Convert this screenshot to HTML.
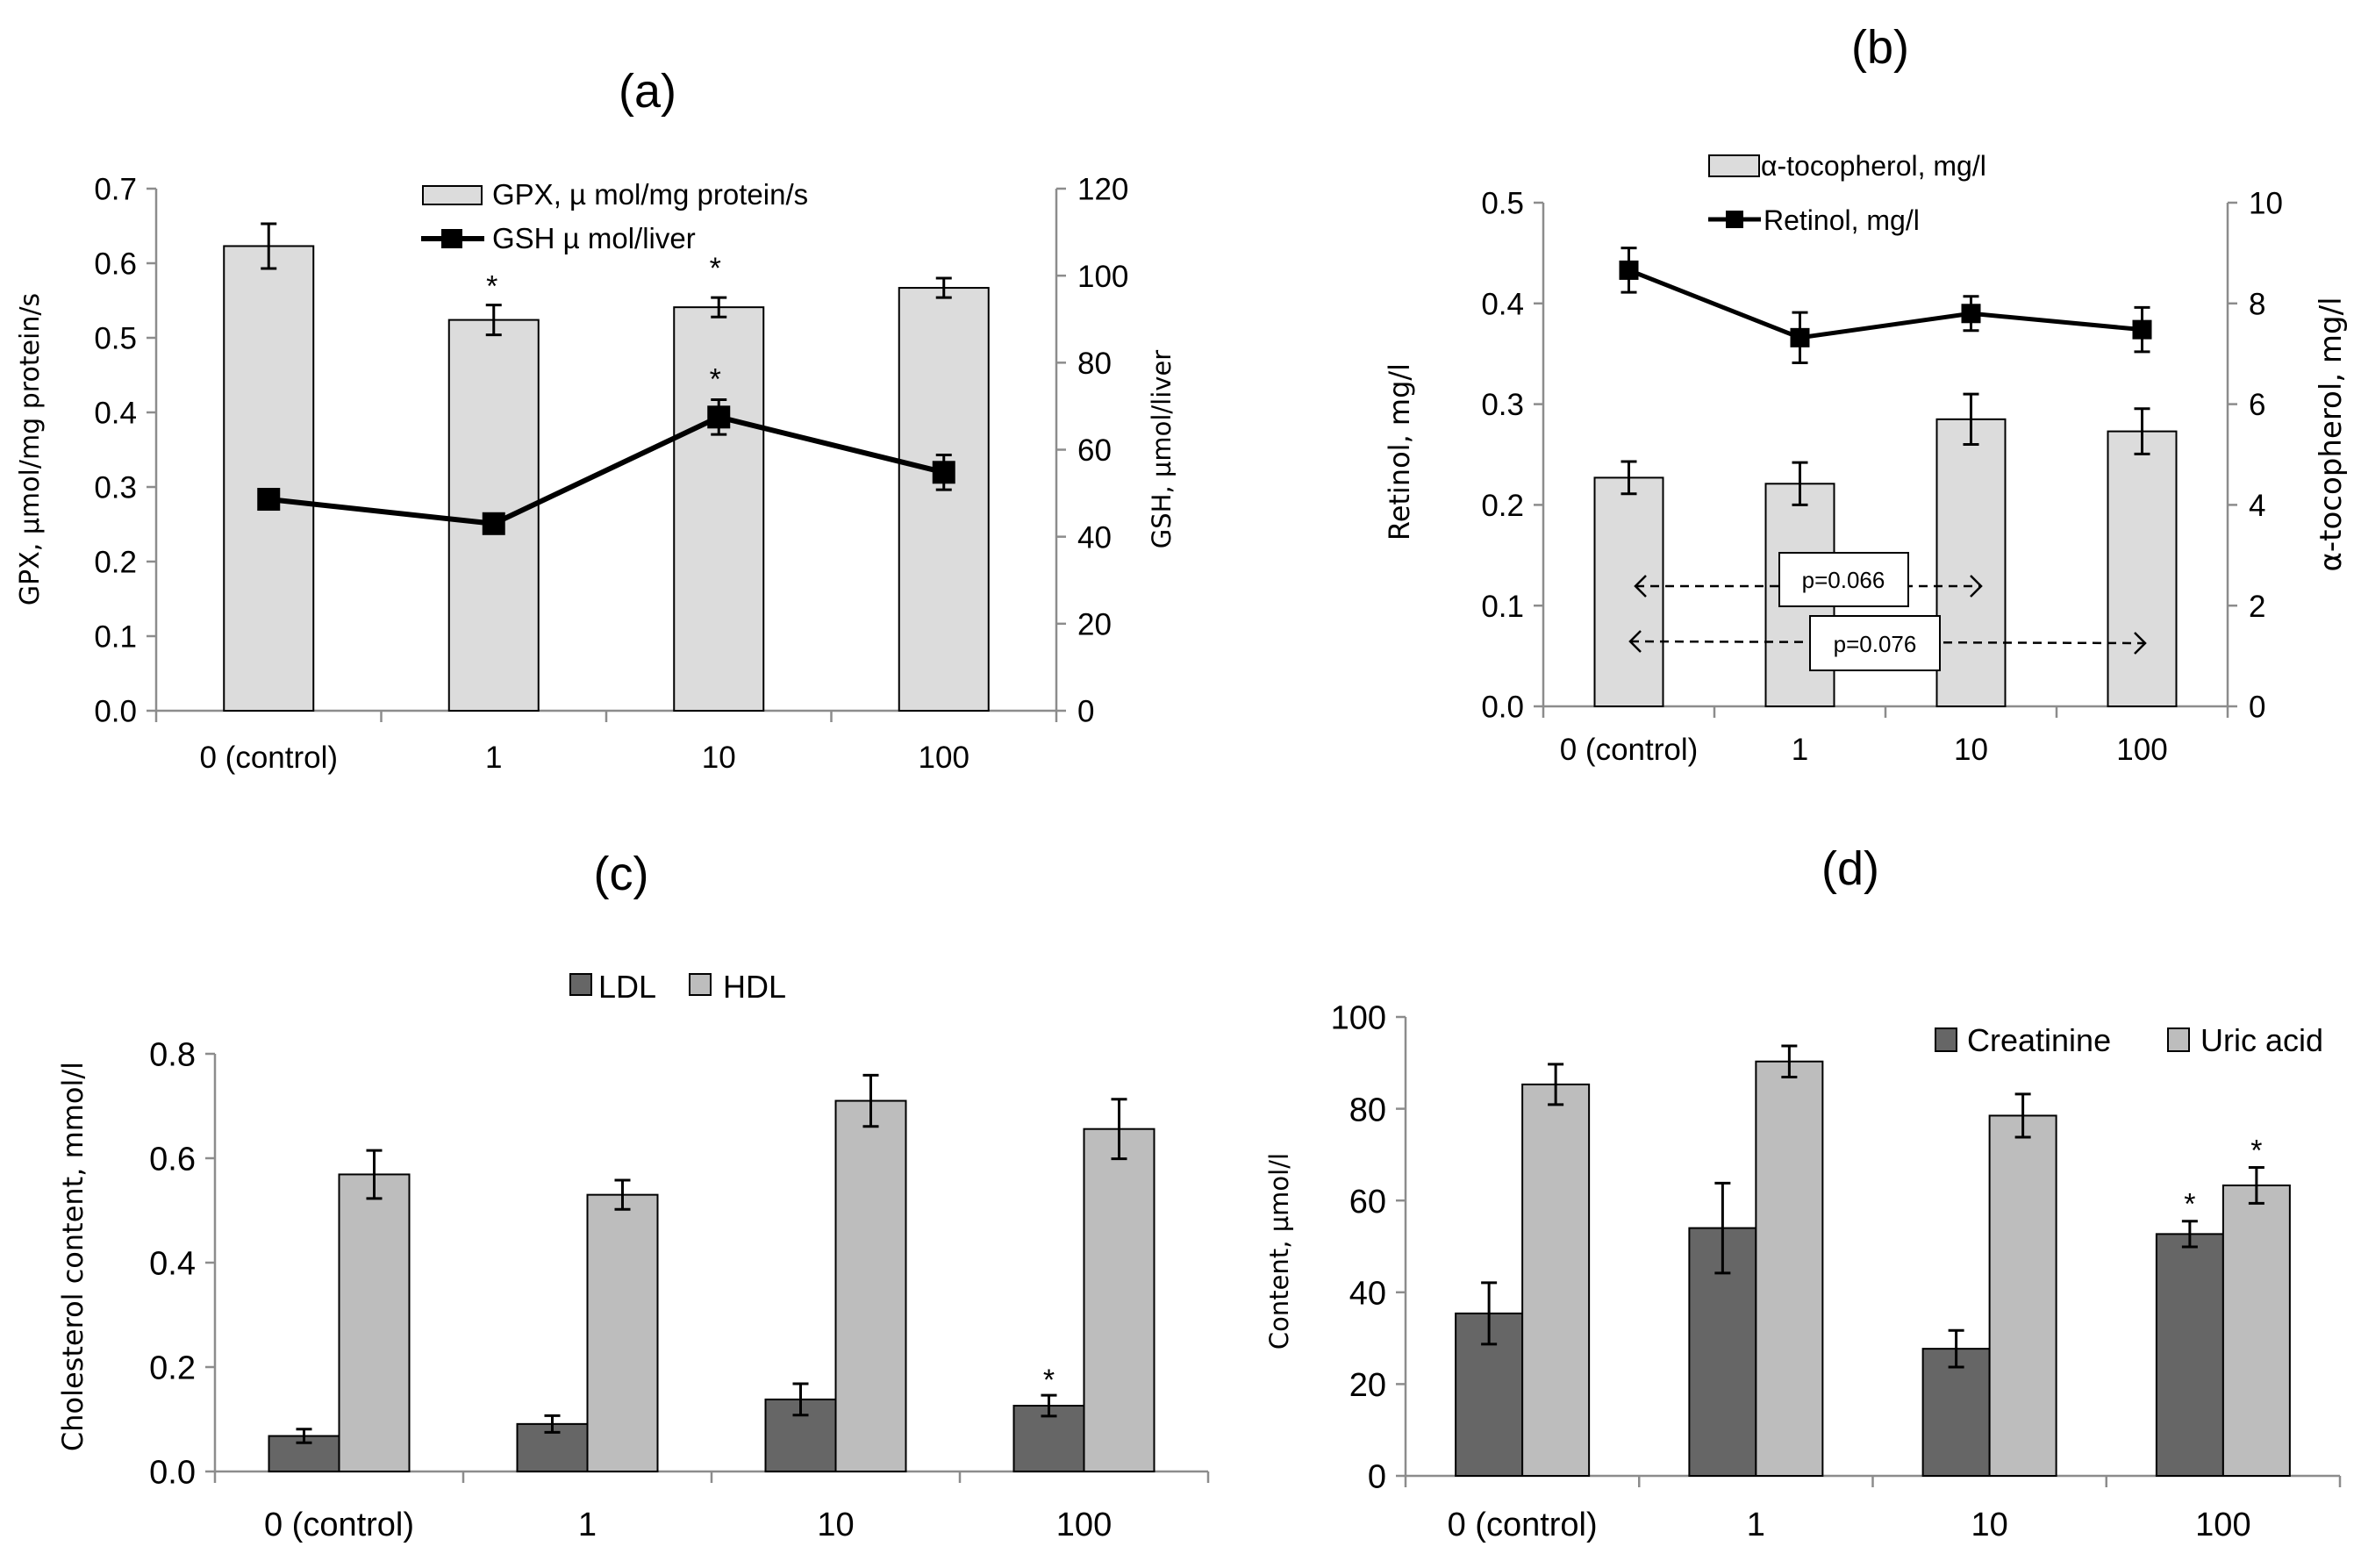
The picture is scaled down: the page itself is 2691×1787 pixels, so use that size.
<!DOCTYPE html>
<html><head><meta charset="utf-8">
<style>
html,body{margin:0;padding:0;background:#fff;}
svg{display:block;}
text{font-family:"Liberation Sans Narrow","Liberation Sans",sans-serif;fill:#000;}
.yt{font-family:"DejaVu Sans","Liberation Sans",sans-serif;}
</style></head>
<body>
<svg id="fig" width="2691" height="1787" viewBox="0 0 2691 1787" xmlns="http://www.w3.org/2000/svg"></svg>
<script>
// ---- data ----
const categories = ["0 (control)", "1", "10", "100"];
// panel a
const gpxValues = [0.623, 0.524, 0.541, 0.567];
const gpxErrors = [0.030, 0.020, 0.013, 0.013];
const gshValues = [48.6, 43.0, 67.5, 54.8];
const gshErrors = [1.5, 2.0, 4.0, 4.0];
const aLeftTicks = ["0.0","0.1","0.2","0.3","0.4","0.5","0.6","0.7"];
const aRightTicks = ["0","20","40","60","80","100","120"];
// panel b
const tocoValues = [4.54, 4.42, 5.70, 5.46];
const tocoErrors = [0.32, 0.42, 0.50, 0.45];
const retinolValues = [0.433, 0.366, 0.390, 0.374];
const retinolErrors = [0.022, 0.025, 0.017, 0.022];
const bLeftTicks = ["0.0","0.1","0.2","0.3","0.4","0.5"];
const bRightTicks = ["0","2","4","6","8","10"];
// panel c
const ldlValues = [0.068, 0.091, 0.138, 0.126];
const ldlErrors = [0.013, 0.016, 0.030, 0.020];
const hdlValues = [0.569, 0.530, 0.710, 0.656];
const hdlErrors = [0.046, 0.028, 0.049, 0.057];
const cTicks = ["0.0","0.2","0.4","0.6","0.8"];
// panel d
const creatValues = [35.4, 54.0, 27.7, 52.7];
const creatErrors = [6.7, 9.8, 4.0, 2.8];
const uricValues = [85.3, 90.3, 78.5, 63.3];
const uricErrors = [4.4, 3.4, 4.7, 3.9];
const dTicks = ["0","20","40","60","80","100"];

const NS = "http://www.w3.org/2000/svg";
const svg = document.getElementById("fig");
function el(tag, attrs, parent, txt) {
  const e = document.createElementNS(NS, tag);
  for (const k in attrs) e.setAttribute(k, attrs[k]);
  if (txt !== undefined) e.textContent = txt;
  (parent || svg).appendChild(e);
  return e;
}
function group(name) {
  const g = el("g", {}, svg);
  
  
  return g;
}
function lin(x0, x1, v0, v1) { return v => x0 + (v - v0) * (x1 - x0) / (v1 - v0); }
function errBar(g, x, y1, y2, cap) {
  const e = el("path", {d:`M${x} ${y1}V${y2}M${x-cap} ${y1}H${x+cap}M${x-cap} ${y2}H${x+cap}`, stroke:"#000", "stroke-width":3, fill:"none"}, g);
  
  
}
function star(g, x, y) {
  const t = el("text", {x:x, y:y, "font-size":34, "text-anchor":"middle"}, g, "*");
  
  
}
function axesFrame(g, x0, x1, yTop, yBot, leftTicks, rightTicks, fs, xlabY) {
  const ax = el("path", {d:`M${x0} ${yTop}V${yBot}H${x1}`, stroke:"#8c8c8c", "stroke-width":2.5, fill:"none"}, g);
  
  
  const n = leftTicks.length - 1;
  leftTicks.forEach((t, i) => {
    const y = yBot - i * (yBot - yTop) / n;
    el("line", {x1:x0-11, x2:x0, y1:y, y2:y, stroke:"#8c8c8c", "stroke-width":2.5}, g);
    const tx = el("text", {x:x0-22, y:y+fs*0.36, "font-size":fs, "text-anchor":"end"}, g, t);
    
    
  });
  if (rightTicks) {
    const ra = el("line", {x1:x1, x2:x1, y1:yTop, y2:yBot, stroke:"#8c8c8c", "stroke-width":2.5}, g);
    
    
    const m = rightTicks.length - 1;
    rightTicks.forEach((t, i) => {
      const y = yBot - i * (yBot - yTop) / m;
      el("line", {x1:x1, x2:x1+11, y1:y, y2:y, stroke:"#8c8c8c", "stroke-width":2.5}, g);
      const tx = el("text", {x:x1+24, y:y+fs*0.36, "font-size":fs, "text-anchor":"start"}, g, t);
      
      
    });
  }
  const cw = (x1 - x0) / categories.length;
  for (let i = 0; i <= categories.length; i++) {
    el("line", {x1:x0+i*cw, x2:x0+i*cw, y1:yBot, y2:yBot+13, stroke:"#8c8c8c", "stroke-width":2.5}, g);
  }
  categories.forEach((c, i) => {
    const tx = el("text", {x:x0+(i+0.5)*cw, y:xlabY, "font-size":fs, "text-anchor":"middle"}, g, c);
    
    
  });
  return cw;
}
function title(g, x, y, s) {
  const t = el("text", {x:x, y:y, "font-size":54, "text-anchor":"middle"}, g, s);
  
  
}
function vtitle(g, x, y, s, fs, name) {
  const t = el("text", {x:x, y:y, "font-size":fs, "text-anchor":"middle", transform:`rotate(-90 ${x} ${y})`, class:"yt"}, g, s);
  
  
}
function marker(g, x, y, s) {
  const m = el("rect", {x:x-s/2, y:y-s/2, width:s, height:s, fill:"#000"}, g);
  
  
}

// ---------- Panel A ----------
(function(){
  const g = group("panel-a");
  const x0 = 178, x1 = 1204, yT = 215, yB = 810;
  title(g, 738, 122, "(a)");
  const cw = axesFrame(g, x0, x1, yT, yB, aLeftTicks, aRightTicks, 35, 875);
  const yL = lin(yB, yT, 0, 0.7), yR = lin(yB, yT, 0, 120);
  const bw = 102;
  gpxValues.forEach((v, i) => {
    const cx = x0 + (i + 0.5) * cw;
    const b = el("rect", {x:cx-bw/2, y:yL(v), width:bw, height:yB-yL(v), fill:"#dcdcdc", stroke:"#000", "stroke-width":2}, g);
    
    
    errBar(g, cx, yL(v+gpxErrors[i]), yL(v-gpxErrors[i]), 9);
  });
  star(g, x0+1.5*cw-2, yL(gpxValues[1]+gpxErrors[1]) - 10);
  star(g, x0+2.5*cw-4, yL(gpxValues[2]+gpxErrors[2]) - 22);
  const pts = gshValues.map((v, i) => [x0 + (i + 0.5) * cw, yR(v)]);
  const ln = el("polyline", {points:pts.map(p=>p.join(",")).join(" "), stroke:"#000", "stroke-width":6, fill:"none"}, g);
  
  
  pts.forEach((p, i) => {
    errBar(g, p[0], yR(gshValues[i]+gshErrors[i]), yR(gshValues[i]-gshErrors[i]), 9);
    marker(g, p[0], p[1], 26);
  });
  star(g, pts[2][0]-4, yR(gshValues[2]+gshErrors[2]) - 12);
  vtitle(g, 44, 512, "GPX, µmol/mg protein/s", 30, "y-axis-title-left");
  vtitle(g, 1334, 512, "GSH, µmol/liver", 29, "y-axis-title-right");
  const lg = el("g", {}, g);
  
  
  el("rect", {x:482, y:212, width:67, height:21, fill:"#dcdcdc", stroke:"#000", "stroke-width":2}, lg);
  el("text", {x:561, y:233, "font-size":33}, lg, "GPX, µ mol/mg protein/s");
  el("line", {x1:480, x2:552, y1:272, y2:272, stroke:"#000", "stroke-width":6}, lg);
  el("rect", {x:503, y:261, width:24, height:22, fill:"#000"}, lg);
  el("text", {x:561, y:283, "font-size":33}, lg, "GSH µ mol/liver");
})();

// ---------- Panel B ----------
(function(){
  const g = group("panel-b");
  const x0 = 1759, x1 = 2539, yT = 231, yB = 805;
  title(g, 2143, 72, "(b)");
  const cw = axesFrame(g, x0, x1, yT, yB, bLeftTicks, bRightTicks, 35, 866);
  const yL = lin(yB, yT, 0, 0.5), yR = lin(yB, yT, 0, 10);
  const bw = 78;
  tocoValues.forEach((v, i) => {
    const cx = x0 + (i + 0.5) * cw;
    const b = el("rect", {x:cx-bw/2, y:yR(v), width:bw, height:yB-yR(v), fill:"#dcdcdc", stroke:"#000", "stroke-width":2}, g);
    
    
    errBar(g, cx, yR(v+tocoErrors[i]), yR(v-tocoErrors[i]), 9);
  });
  const pts = retinolValues.map((v, i) => [x0 + (i + 0.5) * cw, yL(v)]);
  const ln = el("polyline", {points:pts.map(p=>p.join(",")).join(" "), stroke:"#000", "stroke-width":5, fill:"none"}, g);
  
  
  pts.forEach((p, i) => {
    errBar(g, p[0], yL(retinolValues[i]+retinolErrors[i]), yL(retinolValues[i]-retinolErrors[i]), 9);
    marker(g, p[0], p[1], 22);
  });
  const an = el("g", {}, g);
  
  
  el("line", {x1:1864, x2:2258, y1:668, y2:668, stroke:"#000", "stroke-width":2.5, "stroke-dasharray":"10 7"}, an);
  el("path", {d:"M1876 656L1864 668L1876 680M2246 656L2258 668L2246 680", stroke:"#000", "stroke-width":2.5, fill:"none"}, an);
  el("line", {x1:1858, x2:2445, y1:731, y2:733, stroke:"#000", "stroke-width":2.5, "stroke-dasharray":"10 7"}, an);
  el("path", {d:"M1870 719L1858 731L1870 743M2433 721L2445 733L2433 745", stroke:"#000", "stroke-width":2.5, fill:"none"}, an);
  el("rect", {x:2028, y:630, width:147, height:61, fill:"#fff", stroke:"#000", "stroke-width":2}, an);
  el("text", {x:2101, y:670, "font-size":26, "text-anchor":"middle"}, an, "p=0.066");
  el("rect", {x:2063, y:702, width:148, height:62, fill:"#fff", stroke:"#000", "stroke-width":2}, an);
  el("text", {x:2137, y:743, "font-size":26, "text-anchor":"middle"}, an, "p=0.076");
  vtitle(g, 1606, 515, "Retinol, mg/l", 32, "y-axis-title-left");
  vtitle(g, 2668, 495, "α-tocopherol, mg/l", 34, "y-axis-title-right");
  const lg = el("g", {}, g);
  
  
  el("rect", {x:1948, y:177, width:57, height:24, fill:"#dcdcdc", stroke:"#000", "stroke-width":2}, lg);
  el("text", {x:2007, y:200, "font-size":32}, lg, "α-tocopherol, mg/l");
  el("line", {x1:1947, x2:2007, y1:250, y2:250, stroke:"#000", "stroke-width":5}, lg);
  el("rect", {x:1967, y:240, width:20, height:20, fill:"#000"}, lg);
  el("text", {x:2010, y:262, "font-size":32}, lg, "Retinol, mg/l");
})();

function groupedPanel(name, x0, x1, yT, yB, ticks, vmax, s1, e1, s2, e2, bw, n1, n2, xlabY, fs) {
  const g = group(name);
  const cw = axesFrame(g, x0, x1, yT, yB, ticks, null, fs, xlabY);
  const y = lin(yB, yT, 0, vmax);
  [[s1, e1, "#666666", n1, -1], [s2, e2, "#bdbdbd", n2, 0]].forEach(([vals, errs, col, nm, off]) => {
    vals.forEach((v, i) => {
      const cx = x0 + (i + 0.5) * cw;
      const bx = cx + off * bw;
      const b = el("rect", {x:bx, y:y(v), width:bw, height:yB-y(v), fill:col, stroke:"#000", "stroke-width":2}, g);
      
      
      errBar(g, bx + bw/2, y(v+errs[i]), y(v-errs[i]), 9);
    });
  });
  return {g, cw, y};
}

// ---------- Panel C ----------
(function(){
  const p = groupedPanel("panel-c", 245, 1377, 1201, 1677, cTicks, 0.8, ldlValues, ldlErrors, hdlValues, hdlErrors, 80, "ldl-bar", "hdl-bar", 1750, 38);
  title(p.g, 708, 1014, "(c)");
  star(p.g, 245 + 3.5*p.cw - 40, p.y(ldlValues[3]+ldlErrors[3]) - 6);
  vtitle(p.g, 94, 1432, "Cholesterol content, mmol/l", 32, "y-axis-title");
  const lg = el("g", {}, p.g);
  
  
  el("rect", {x:650, y:1110, width:24, height:24, fill:"#666666", stroke:"#000", "stroke-width":2}, lg);
  el("text", {x:682, y:1137, "font-size":36}, lg, "LDL");
  el("rect", {x:786, y:1110, width:24, height:24, fill:"#bdbdbd", stroke:"#000", "stroke-width":2}, lg);
  el("text", {x:824, y:1137, "font-size":36}, lg, "HDL");
})();

// ---------- Panel D ----------
(function(){
  const p = groupedPanel("panel-d", 1602, 2667, 1159, 1682, dTicks, 100, creatValues, creatErrors, uricValues, uricErrors, 76, "creatinine-bar", "uric-acid-bar", 1750, 38);
  title(p.g, 2109, 1008, "(d)");
  star(p.g, 1602 + 3.5*p.cw - 38, p.y(creatValues[3]+creatErrors[3]) - 8);
  star(p.g, 1602 + 3.5*p.cw + 38, p.y(uricValues[3]+uricErrors[3]) - 8);
  vtitle(p.g, 1468, 1426, "Content, µmol/l", 29, "y-axis-title");
  const lg = el("g", {}, p.g);
  
  
  el("rect", {x:2206, y:1172, width:24, height:26, fill:"#666666", stroke:"#000", "stroke-width":2}, lg);
  el("text", {x:2242, y:1198, "font-size":36}, lg, "Creatinine");
  el("rect", {x:2471, y:1172, width:24, height:26, fill:"#bdbdbd", stroke:"#000", "stroke-width":2}, lg);
  el("text", {x:2508, y:1198, "font-size":36}, lg, "Uric acid");
})();
</script>
</body></html>
